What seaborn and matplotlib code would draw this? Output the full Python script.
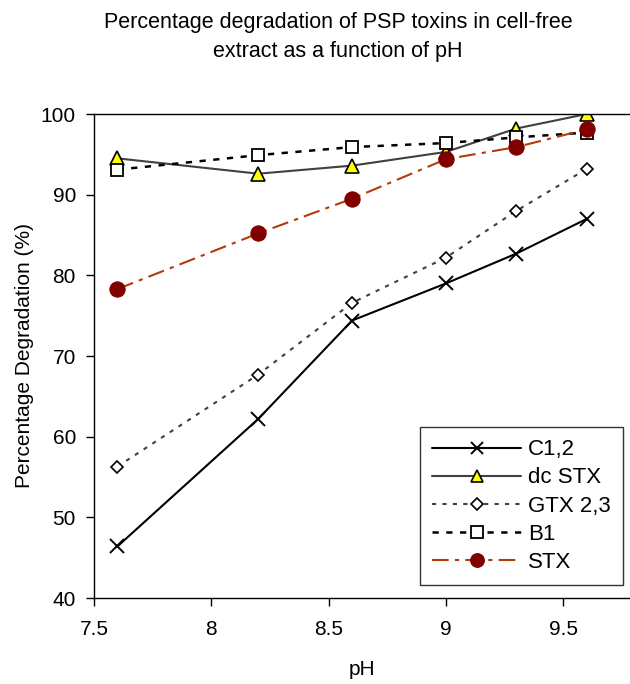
import matplotlib
matplotlib.use("Agg")
import matplotlib.pyplot as plt
import seaborn as sns
import pandas as pd

ph = [7.6, 8.2, 8.6, 9.0, 9.3, 9.6]
c12 = [46.4, 62.2, 74.4, 79.0, 82.7, 87.0]
dcstx = [94.5, 92.6, 93.6, 95.3, 98.2, 100.0]
gtx23 = [56.3, 67.7, 76.6, 82.2, 88.0, 93.2]
b1 = [93.1, 94.9, 95.9, 96.4, 97.1, 97.7]
stx = [78.3, 85.2, 89.5, 94.4, 95.9, 98.1]
names = ["C1,2", "dc STX", "GTX 2,3", "B1", "STX"]
series = [c12, dcstx, gtx23, b1, stx]

sns.set_style("white")
plt.rcParams["font.family"] = ["Liberation Sans", "DejaVu Sans"]
plt.rcParams["text.color"] = "black"
plt.rcParams["axes.labelcolor"] = "black"
plt.rcParams["xtick.color"] = "black"
plt.rcParams["ytick.color"] = "black"

fig = plt.figure(figsize=(6.3, 6.84), dpi=100)
ax = fig.add_axes([94/630, 1-598/684, (629-94)/630, (598-114)/684])

styles = {
    "C1,2": dict(color="black", marker="x", markersize=10, markeredgewidth=1.4,
                 markeredgecolor="black", linestyle="-", linewidth=1.5),
    "dc STX": dict(color="#404040", marker="^", markersize=10, markerfacecolor="#ffff00",
                   markeredgecolor="black", markeredgewidth=1.2, linestyle="-", linewidth=1.5),
    "GTX 2,3": dict(color="#404040", marker="D", markersize=6.5, markerfacecolor="white",
                    markeredgecolor="black", markeredgewidth=1.2, linestyle=(0, (2, 3)), linewidth=1.5),
    "B1": dict(color="black", marker="s", markersize=9, markerfacecolor="white",
               markeredgecolor="black", markeredgewidth=1.3, linestyle=(0, (2.5, 3)), linewidth=1.8),
    "STX": dict(color="#b33a0a", marker="o", markersize=11, markerfacecolor="#800000",
                markeredgecolor="#800000", linestyle=(0, (8, 3, 2, 3)), linewidth=1.5),
}

for name, vals in zip(names, series):
    df = pd.DataFrame({"pH": ph, "val": vals})
    sns.lineplot(data=df, x="pH", y="val", ax=ax, label=name, **styles[name])

ax.set_xlim(7.5, 9.78)
ax.set_ylim(40, 100)
ax.set_xticks([7.5, 8, 8.5, 9, 9.5])
ax.set_xticklabels(["7.5", "8", "8.5", "9", "9.5"])
ax.set_yticks([40, 50, 60, 70, 80, 90, 100])
ax.tick_params(axis="both", labelsize=15, length=6, width=1, direction="out", color="black",
               labelcolor="black", bottom=True, left=True)
ax.tick_params(axis="x", pad=10)
ax.tick_params(axis="y", pad=7)
for s in ["left", "bottom", "top"]:
    ax.spines[s].set_color("black")
    ax.spines[s].set_linewidth(1.0)
ax.spines["right"].set_visible(False)

ax.set_xlabel("pH", fontsize=15, labelpad=15)
ax.set_ylabel("Percentage Degradation (%)", fontsize=15, labelpad=5)
fig.text(338/630, 1-37/684, "Percentage degradation of PSP toxins in cell-free\nextract as a function of pH",
         ha="center", va="center", fontsize=15.5, linespacing=1.45)

leg = ax.legend(loc="lower right", bbox_to_anchor=((623-94)/535, (598-585)/484),
                borderaxespad=0, fontsize=16, handlelength=4.0, labelspacing=0.32, frameon=True,
                fancybox=False, edgecolor="black", borderpad=0.55, handletextpad=0.3,
                markerscale=0.9)
leg.get_frame().set_linewidth(1.0)

fig.savefig("out.png", dpi=100, facecolor="white")
